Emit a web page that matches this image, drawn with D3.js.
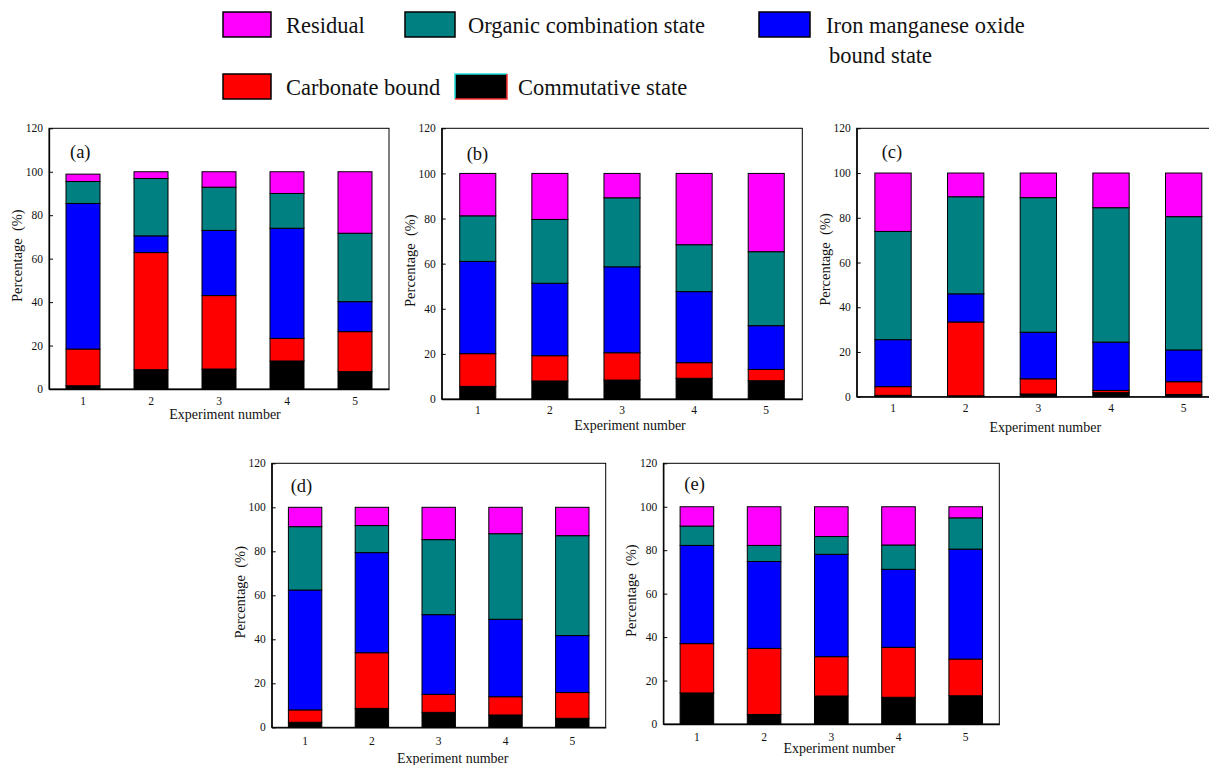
<!DOCTYPE html>
<html>
<head>
<meta charset="utf-8">
<script src="https://cdn.jsdelivr.net/npm/d3@7"></script>
<style>
  body { margin: 0; background: #fff; }
  text { font-family: "Times New Roman", "Liberation Serif", serif; fill: #111; }
</style>
</head>
<body>
<svg id="chart" width="1209" height="765"></svg>
<script>
var experiments = ["1", "2", "3", "4", "5"];
var panelNames = ["(a)", "(b)", "(c)", "(d)", "(e)"];
var yTicks = [0, 20, 40, 60, 80, 100, 120];

// one row per panel (a..e), one value per experiment, in %
var commutative = [
  [1.5, 8.9, 9.2, 12.9, 8.0],
  [5.6, 8.0, 8.4, 9.2, 8.1],
  [0.6, 0.4, 1.2, 1.8, 1.0],
  [2.3, 8.6, 6.8, 5.6, 4.1],
  [14.3, 4.4, 12.9, 12.3, 13.0]
];
var carbonate = [
  [16.9, 53.9, 33.8, 10.4, 18.4],
  [14.5, 11.2, 12.1, 6.9, 5.0],
  [3.9, 33.0, 6.8, 1.0, 5.7],
  [5.6, 25.3, 8.2, 8.3, 11.7],
  [22.7, 30.4, 18.1, 23.0, 16.9]
];
var ironManganese = [
  [67.0, 7.7, 30.0, 50.7, 13.8],
  [40.9, 32.1, 38.1, 31.5, 19.4],
  [21.0, 12.6, 20.8, 21.6, 14.2],
  [54.5, 45.5, 36.2, 35.2, 25.9],
  [45.2, 40.0, 47.1, 35.9, 50.6]
];
var organic = [
  [10.1, 26.4, 19.9, 16.0, 31.5],
  [20.2, 28.3, 30.6, 20.8, 32.8],
  [48.4, 43.4, 60.2, 60.1, 59.6],
  [28.8, 12.3, 34.1, 38.9, 45.4],
  [8.9, 7.4, 8.2, 11.2, 14.4]
];
var residual = [
  [3.4, 3.1, 7.1, 10.0, 28.3],
  [18.8, 20.4, 10.8, 31.6, 34.7],
  [26.1, 10.6, 11.0, 15.5, 19.5],
  [8.8, 8.3, 14.7, 12.0, 12.9],
  [8.9, 17.8, 13.7, 17.6, 5.1]
];

var keys = ["comm", "carb", "femn", "org", "res"];
var colors = {comm: "#000000", carb: "#ff0000", femn: "#0000ff", org: "#008080", res: "#ff00ff"};
var serif = '"Times New Roman", "Liberation Serif", serif';

// panel placement in the page
var layout = [
  {x0: 49,    x1: 389,  y0: 128.3, y1: 389,   lx: 21, ly: 30, tickPad: 8.3, titleDx: 6,  titleDy: 30},
  {x0: 441.7, x1: 802.3, y0: 128.3, y1: 399,  lx: 25, ly: 32, tickPad: 7,   titleDx: 8,  titleDy: 31},
  {x0: 856.7, x1: 1220, y0: 128.3, y1: 396.7, lx: 25, ly: 30, tickPad: 7.5, titleDx: 7,  titleDy: 35},
  {x0: 271.7, x1: 605.7, y0: 463.3, y1: 727.3, lx: 19, ly: 29, tickPad: 10, titleDx: 14, titleDy: 36},
  {x0: 663.3, x1: 999.3, y0: 463.3, y1: 724,   lx: 21, ly: 27, tickPad: 8.5, titleDx: 8, titleDy: 29}
];

var svg = d3.select("#chart");
svg.append("rect").attr("width", 1209).attr("height", 765).attr("fill", "#fff");

layout.forEach(function (p, k) {
  var rows = experiments.map(function (e, i) {
    return {
      exp: e,
      comm: commutative[k][i],
      carb: carbonate[k][i],
      femn: ironManganese[k][i],
      org: organic[k][i],
      res: residual[k][i]
    };
  });

  var x = d3.scaleBand()
    .domain(experiments)
    .range([p.x0, p.x1])
    .paddingInner(0.5)
    .paddingOuter(0.25);

  var y = d3.scaleLinear()
    .domain([0, 120])
    .range([p.y1, p.y0]);

  var g = svg.append("g");

  // frame
  g.append("rect")
    .attr("x", p.x0)
    .attr("y", p.y0)
    .attr("width", p.x1 - p.x0)
    .attr("height", p.y1 - p.y0)
    .attr("fill", "none")
    .attr("stroke", "#000")
    .attr("stroke-width", 1);

  var stacked = d3.stack().keys(keys)(rows);

  g.selectAll("g.layer")
    .data(stacked)
    .enter().append("g")
    .attr("class", "layer")
    .attr("fill", function (d) { return colors[d.key]; })
    .selectAll("rect")
    .data(function (d) { return d; })
    .enter().append("rect")
    .attr("x", function (d) { return x(d.data.exp); })
    .attr("y", function (d) { return y(d[1]); })
    .attr("width", x.bandwidth())
    .attr("height", function (d) { return y(d[0]) - y(d[1]); })
    .attr("stroke", "#000")
    .attr("stroke-width", 1);

  // y axis
  var yAxis = g.append("g")
    .attr("transform", "translate(" + p.x0 + ",0)")
    .call(d3.axisLeft(y).tickValues(yTicks).tickSize(-4).tickSizeOuter(0).tickPadding(6))
    .attr("font-family", serif);
  yAxis.select(".domain").attr("stroke", "#000").attr("stroke-width", 1.3);
  yAxis.selectAll(".tick line").attr("stroke", "#000");
  yAxis.selectAll("text").style("font-size", "11.5px").style("font-family", serif).attr("fill", "#111");

  // x axis
  var xAxis = g.append("g")
    .attr("transform", "translate(0," + p.y1 + ")")
    .call(d3.axisBottom(x).tickSize(0).tickPadding(p.tickPad))
    .attr("font-family", serif);
  xAxis.select(".domain").attr("stroke", "#000").attr("stroke-width", 1.3);
  xAxis.selectAll("text").style("font-size", "11.5px").style("font-family", serif).attr("fill", "#111");

  g.append("text")
    .attr("x", (p.x0 + p.x1) / 2 + p.titleDx)
    .attr("y", p.y1 + p.titleDy)
    .attr("text-anchor", "middle")
    .style("font-size", "14px")
    .text("Experiment number");

  g.append("text")
    .attr("transform", "translate(" + (p.x0 - 32) + "," + ((p.y0 + p.y1) / 2 - 3) + ") rotate(-90)")
    .attr("text-anchor", "middle")
    .attr("dy", "0.35em")
    .style("font-size", "14.5px")
    .text("Percentage\u00a0\u00a0(%)");

  g.append("text")
    .attr("x", p.x0 + p.lx)
    .attr("y", p.y0 + p.ly)
    .style("font-size", "18.5px")
    .text(panelNames[k]);
});

// legend
var legendItems = [
  {key: "res",  label: ["Residual"], sx: 223, sy: 12, sw: 48, tx: 286, ty: 33},
  {key: "org",  label: ["Organic combination state"], sx: 405, sy: 12, sw: 50, tx: 468, ty: 33},
  {key: "femn", label: ["Iron manganese oxide", "bound state"], sx: 759, sy: 12, sw: 51, tx: 826, ty: 33},
  {key: "carb", label: ["Carbonate bound"], sx: 223, sy: 74, sw: 48, tx: 286, ty: 95},
  {key: "comm", label: ["Commutative state"], sx: 455, sy: 74, sw: 52, tx: 518, ty: 95}
];

var legend = svg.append("g");
legendItems.forEach(function (d) {
  legend.append("rect")
    .attr("x", d.sx)
    .attr("y", d.sy)
    .attr("width", d.sw)
    .attr("height", 25)
    .attr("fill", colors[d.key])
    .attr("stroke", d.key == "comm" ? "none" : "#000")
    .attr("stroke-width", 1.5);
  if (d.key == "comm") {
    legend.append("path")
      .attr("d", "M" + d.sx + "," + (d.sy + 25) + "V" + d.sy + "H" + (d.sx + d.sw))
      .attr("fill", "none").attr("stroke", "#22e0e0").attr("stroke-width", 1.5);
    legend.append("path")
      .attr("d", "M" + (d.sx + d.sw) + "," + d.sy + "V" + (d.sy + 25) + "H" + d.sx)
      .attr("fill", "none").attr("stroke", "#ff3030").attr("stroke-width", 1.5);
  }
  var t = legend.append("text")
    .attr("x", d.tx)
    .attr("y", d.ty)
    .style("font-size", "22.5px");
  d.label.forEach(function (line, i) {
    t.append("tspan")
      .attr("x", d.tx + (i ? 3 : 0))
      .attr("dy", i ? 30 : 0)
      .text(line);
  });
});
</script>
</body>
</html>
